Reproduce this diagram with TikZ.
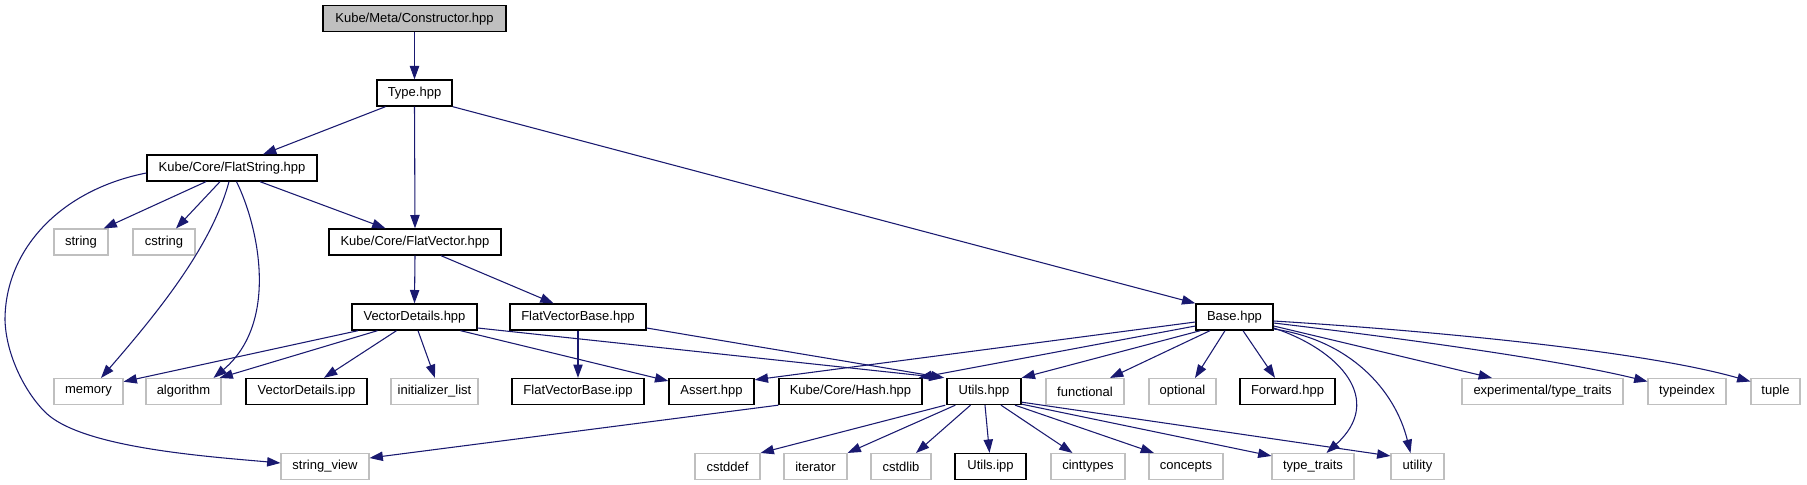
\documentclass[tikz,border=0pt]{standalone}
\usepackage{fontspec}
\setmainfont{Liberation Sans}
\usetikzlibrary{arrows.meta,calc}
\definecolor{edgeblue}{HTML}{191970}
\definecolor{extgray}{HTML}{BFBFBF}
\definecolor{rootgray}{HTML}{BFBFBF}
\begin{document}
\begin{tikzpicture}[x=0.75pt,y=-0.75pt,
  box/.style={rectangle, inner sep=0pt, minimum height=19.5pt, font=\fontsize{9.75}{11}\selectfont, text=black},
  wd/.style={minimum width=#1*0.75pt},
  doc/.style={box, draw=black, line width=1pt, fill=white},
  ext/.style={box, draw=extgray, line width=0.8pt, fill=white},
  root/.style={box, draw=black, line width=1pt, fill=rootgray},
  dep/.style={draw=edgeblue, line width=0.8pt, -{Triangle[length=10pt,width=7pt]}},
]
\useasboundingbox (0,0) rectangle (1807,485);
\fill[white] (0,0) rectangle (1807,485);

% nodes
\node[root, wd=183] (con) at (414.5,18.7) {Kube/Meta/Constructor.hpp};
\node[doc, wd=75] (type) at (414.5,93) {Type.hpp};
\node[doc, wd=170] (fs) at (232,168) {Kube/Core/FlatString.hpp};
\node[ext, wd=54] (str) at (81,242) {string};
\node[ext, wd=62] (cstr) at (164,242) {cstring};
\node[doc, wd=172] (fv) at (415,242) {Kube/Core/FlatVector.hpp};
\node[doc, wd=125] (vd) at (414.5,317) {VectorDetails.hpp};
\node[doc, wd=136] (fvb) at (578,317) {FlatVectorBase.hpp};
\node[doc, wd=77] (base) at (1234.5,317) {Base.hpp};
\node[ext, wd=69] (mem) at (88.5,391.5) {memory};
\node[ext, wd=75] (alg) at (183.5,391.5) {algorithm};
\node[doc, wd=121] (vdi) at (306.5,391.5) {VectorDetails.ipp};
\node[ext, wd=87] (init) at (434.5,391.5) {initializer\_list};
\node[doc, wd=132] (fvbi) at (578,391.5) {FlatVectorBase.ipp};
\node[doc, wd=85] (assert) at (711.5,391.5) {Assert.hpp};
\node[doc, wd=143] (hash) at (850.5,391.5) {Kube/Core/Hash.hpp};
\node[doc, wd=74] (utils) at (984,391.5) {Utils.hpp};
\node[ext, wd=78] (func) at (1085,391.5) {functional};
\node[ext, wd=67] (opt) at (1182.5,391.5) {optional};
\node[doc, wd=95] (fwd) at (1287.5,391.5) {Forward.hpp};
\node[ext, wd=161] (exptt) at (1542.5,391.5) {experimental/type\_traits};
\node[ext, wd=78] (tindex) at (1687,391.5) {typeindex};
\node[ext, wd=49] (tuple) at (1775.5,391.5) {tuple};
\node[ext, wd=88] (sv) at (325,466.5) {string\_view};
\node[ext, wd=65] (cstddef) at (727.5,466.5) {cstddef};
\node[ext, wd=63] (iter) at (815.5,466.5) {iterator};
\node[ext, wd=60] (cstdlib) at (901,466.5) {cstdlib};
\node[doc, wd=71] (uipp) at (990.5,466.5) {Utils.ipp};
\node[ext, wd=74] (cint) at (1088,466.5) {cinttypes};
\node[ext, wd=74] (concepts) at (1186,466.5) {concepts};
\node[ext, wd=82] (tt) at (1313,466.5) {type\_traits};
\node[ext, wd=53] (util) at (1417.5,466.5) {utility};

% edges
\draw[dep] (con.south) -- (type.north);
\draw[dep] ($(type.south)+(-29,0)$) -- ($(fs.north)+(31,0)$);
\draw[dep] (type.south) -- (fv.north);
\draw[dep] (type.south east) -- (base.north west);

\draw[dep] ($(fs.south)+(-26,0)$) -- ($(str.north)+(22.6,0)$);
\draw[dep] ($(fs.south)+(-12,0)$) -- ($(cstr.north)+(12,0)$);
\draw[dep] ($(fs.south)+(-3,0)$) .. controls (212,245) and (160,310) .. ($(mem.north)+(12.5,0)$);
\draw[dep] ($(fs.south)+(4.5,0)$) .. controls (258,225) and (280,322) .. ($(alg.north)+(30,0)$);
\draw[dep] ($(fs.south)+(28,0)$) -- ($(fv.north)+(-29.5,0)$);
\draw[dep] ($(fs.west)+(0,5)$) .. controls (60,190) and (5,250) .. (5,320)
  .. controls (6,355) and (25,392) .. (45,412)
  .. controls (80,447) and (200,456) .. ($(sv.west)+(0,-3.5)$);

\draw[dep] (fv.south) -- (vd.north);
\draw[dep] ($(fv.south)+(26,0)$) -- ($(fvb.north)+(-24.4,0)$);

\draw[dep] ($(vd.south)+(-56.5,0)$) -- ($(mem.east)+(0,-9.8)$);
\draw[dep] ($(vd.south)+(-37,0)$) -- ($(alg.north)+(36,0)$);
\draw[dep] ($(vd.south)+(-18,0)$) -- ($(vdi.north)+(17.5,0)$);
\draw[dep] ($(vd.south)+(3.5,0)$) -- ($(init.north)+(0.5,0)$);
\draw[dep] ($(vd.south)+(46,0)$) -- ($(assert.west)+(0,-10.5)$);
\draw[dep] ($(vd.east)+(0,11)$) -- ($(utils.north west)+(-4,0)$);

\draw[dep] (fvb.south) -- (fvbi.north);
\draw[dep] ($(fvb.east)+(0,11)$) -- ($(utils.north west)+(-2,0)$);

\draw[dep] ($(base.west)+(0,5)$) -- ($(assert.north east)+(0,2)$);
\draw[dep] ($(base.west)+(0,9)$) -- ($(hash.north east)+(-4,0)$);
\draw[dep] ($(base.south west)+(5,0)$) -- (utils.north east);
\draw[dep] ($(base.south)+(-24.5,0)$) -- ($(func.north)+(25,0)$);
\draw[dep] ($(base.south)+(-9.5,0)$) -- ($(opt.north)+(12.5,0)$);
\draw[dep] ($(base.south)+(8.5,0)$) -- ($(fwd.north)+(-12.5,0)$);
\draw[dep] ($(base.east)+(0,11)$) .. controls (1340,350) and (1385,400) .. ($(tt.north)+(13.5,0)$);
\draw[dep] ($(base.east)+(0,12)$) .. controls (1350,340) and (1395,390) .. ($(util.north)+(-7,0)$);
\draw[dep] ($(base.east)+(0,9)$) -- ($(exptt.north)+(-50.5,0)$);
\draw[dep] ($(base.east)+(0,6)$) .. controls (1400,338) and (1560,360) .. ($(tindex.west)+(0,-10)$);
\draw[dep] ($(base.east)+(0,4)$) .. controls (1420,330) and (1640,350) .. ($(tuple.west)+(0,-10)$);

\draw[dep] (hash.south west) -- ($(sv.east)+(0,-8.5)$);

\draw[dep] ($(utils.south west)+(-1,0)$) -- (cstddef.north east);
\draw[dep] ($(utils.south west)+(9,0)$) -- (iter.north east);
\draw[dep] ($(utils.south)+(-13.5,0)$) -- ($(cstdlib.north)+(15,0)$);
\draw[dep] ($(utils.south)+(1,0)$) -- ($(uipp.north)+(-1,0)$);
\draw[dep] ($(utils.south)+(17,0)$) -- ($(cint.north)+(-15.5,0)$);
\draw[dep] ($(utils.south)+(31,0)$) -- ($(concepts.north)+(-32,0)$);
\draw[dep] ($(utils.south east)+(0,-1)$) -- ($(tt.north west)+(0,3)$);
\draw[dep] ($(utils.south east)+(0,-3)$) -- ($(util.north west)+(0,3)$);
\end{tikzpicture}
\end{document}
